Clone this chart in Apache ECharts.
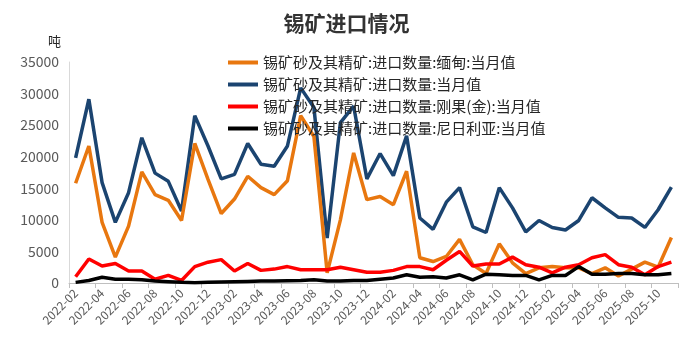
<!DOCTYPE html>
<html><head><meta charset="utf-8">
<script src="https://cdn.jsdelivr.net/npm/echarts@6/dist/echarts.min.js"></script>
<style>html,body{margin:0;padding:0;background:#fff}#c{width:693px;height:348px}</style>
</head><body><div id="c"></div>
<script>
const categories = (function(){const a=[];for(let y=2022;y<=2025;y++){for(let m=1;m<=12;m++){if(y===2022&&m<2)continue;if(y===2025&&m>11)continue;a.push(y+'-'+String(m).padStart(2,'0'));}}return a;})();
const seriesNames = ['锡矿砂及其精矿:进口数量:缅甸:当月值','锡矿砂及其精矿:进口数量:当月值','锡矿砂及其精矿:进口数量:刚果(金):当月值','锡矿砂及其精矿:进口数量:尼日利亚:当月值'];
const myanmar = [15800,21700,9600,4100,9000,17600,14000,13100,9900,22100,16400,11000,13300,16900,15100,14000,16200,26500,23200,1600,10000,20600,13200,13700,12400,17700,4000,3400,4200,6900,2900,1500,6200,3200,1500,2400,2600,2400,2400,1500,2400,1100,2200,3300,2500,7200];
const total = [19800,29100,15900,9600,14300,23000,17400,16100,11400,26500,21700,16500,17200,22100,18800,18500,21700,30900,27800,7100,25400,28000,16500,20500,17000,23300,10300,8500,12800,15100,8900,8000,15100,11900,8100,9900,8800,8400,9900,13500,11900,10400,10300,8800,11600,15200];
const congo = [1000,3800,2700,3100,1900,1900,600,1200,400,2600,3300,3700,1900,3100,2000,2200,2600,2100,2100,2100,2500,2100,1700,1700,2000,2600,2600,2100,3600,5000,2700,3000,3000,4100,2900,2500,1600,2500,2900,4000,4500,2900,2500,1300,2600,3300];
const nigeria = [100,400,900,600,600,500,300,200,100,50,100,150,200,250,300,300,350,400,500,300,300,400,400,600,800,1300,900,1000,800,1300,500,1400,1300,1200,1200,500,1200,1200,2600,1400,1400,1500,1500,1300,1300,1500];
const yTicks = [0,5000,10000,15000,20000,25000,30000,35000];
const colors = ['#E8770F','#1B4470','#FF0000','#000000'];
const chart = echarts.init(document.getElementById('c'));
const fontFam = '"Noto Sans CJK SC", sans-serif';
chart.setOption({
  animation:false,
  title:{text:'锡矿进口情况',left:'center',top:8,textStyle:{fontSize:21,fontWeight:'bold',color:'#333333',fontFamily:fontFam}},
  legend:{orient:'vertical',left:223,top:50,itemWidth:30,itemHeight:4,itemGap:7,icon:'rect',
    textStyle:{fontSize:15,color:'#262626',fontFamily:fontFam},data:seriesNames},
  grid:{left:69,right:15,top:62,bottom:65,containLabel:false},
  xAxis:{type:'category',data:categories,boundaryGap:true,
    axisLine:{lineStyle:{color:'#BFBFBF',width:1}},
    axisTick:{show:true,interval:1,length:5,lineStyle:{color:'#BFBFBF'}},
    axisLabel:{interval:1,rotate:45,fontSize:12,color:'#595959',margin:8,fontFamily:fontFam}},
  yAxis:{type:'value',min:yTicks[0],max:yTicks[yTicks.length-1],interval:5000,
    name:'吨',nameLocation:'end',nameGap:14,nameTextStyle:{fontSize:13,color:'#262626',align:'right',padding:[0,8,0,0],fontFamily:fontFam},
    axisLine:{show:true,lineStyle:{color:'#D9D9D9'}},axisTick:{show:false},splitLine:{show:false},
    axisLabel:{fontSize:14,color:'#595959',margin:10,fontFamily:fontFam,formatter:function(v){return String(v);}}},
  series:[
    {name:seriesNames[0],type:'line',data:myanmar,symbol:'none',lineStyle:{width:3.5,color:colors[0]},itemStyle:{color:colors[0]},z:3},
    {name:seriesNames[1],type:'line',data:total,symbol:'none',lineStyle:{width:3.5,color:colors[1]},itemStyle:{color:colors[1]},z:2},
    {name:seriesNames[2],type:'line',data:congo,symbol:'none',lineStyle:{width:3.5,color:colors[2]},itemStyle:{color:colors[2]},z:4},
    {name:seriesNames[3],type:'line',data:nigeria,symbol:'none',lineStyle:{width:3.5,color:colors[3]},itemStyle:{color:colors[3]},z:5}
  ]
});
</script></body></html>
